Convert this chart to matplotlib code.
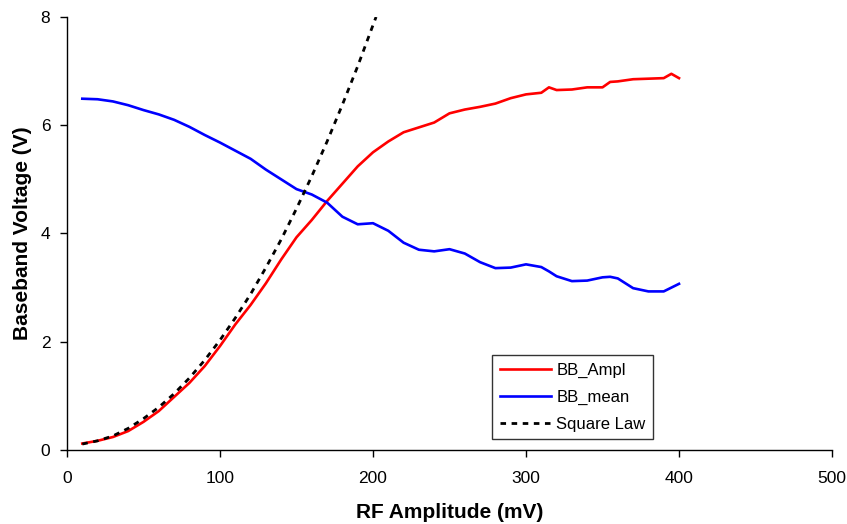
import matplotlib.pyplot as plt

plt.rcParams['font.family'] = ['Liberation Sans', 'DejaVu Sans']

# RF amplitude (mV)
rf_mv = [10, 20, 30, 40, 50, 60, 70, 80, 90, 100,
         110, 120, 130, 140, 150, 160, 170, 180, 190, 200,
         210, 220, 230, 240, 250, 260, 270, 280, 290, 300,
         310, 315, 320, 330, 340, 350, 355, 360, 370, 380,
         390, 395, 400]

bb_ampl = [0.12, 0.17, 0.24, 0.35, 0.52, 0.72, 0.98, 1.24, 1.55, 1.92,
           2.32, 2.68, 3.08, 3.52, 3.93, 4.25, 4.60, 4.92, 5.24, 5.50,
           5.70, 5.87, 5.96, 6.05, 6.22, 6.29, 6.34, 6.40, 6.50, 6.57,
           6.60, 6.70, 6.65, 6.66, 6.70, 6.70, 6.80, 6.81, 6.85, 6.86,
           6.87, 6.95, 6.87]

bb_mean = [6.49, 6.48, 6.44, 6.37, 6.28, 6.20, 6.10, 5.97, 5.82, 5.68,
           5.53, 5.38, 5.18, 5.00, 4.82, 4.72, 4.57, 4.31, 4.17, 4.19,
           4.05, 3.83, 3.70, 3.67, 3.71, 3.63, 3.47, 3.36, 3.37, 3.43,
           3.38, 3.30, 3.21, 3.12, 3.13, 3.19, 3.20, 3.17, 2.99, 2.93,
           2.93, 3.00, 3.07]

# square law reference
sq_mv = [10, 20, 30, 40, 50, 60, 70, 80, 90, 100,
         110, 120, 130, 140, 150, 160, 170, 180, 190, 200, 202]
sq_law = [0.11, 0.17, 0.26, 0.40, 0.58, 0.79, 1.04, 1.33, 1.66, 2.03,
          2.44, 2.88, 3.37, 3.89, 4.46, 5.06, 5.70, 6.38, 7.09, 7.85, 8.0]

fig = plt.figure(figsize=(8.47, 5.24), dpi=100)
ax = fig.add_axes([0.0791, 0.1412, 0.9032, 0.8264])

ax.plot(rf_mv, bb_ampl, color='#ff0000', lw=1.9, label='BB_Ampl')
ax.plot(rf_mv, bb_mean, color='#0000ff', lw=1.9, label='BB_mean')
ax.plot(sq_mv, sq_law, color='black', lw=2, ls=(0, (2, 2)), label='Square Law')

ax.set_xlim(0, 500)
ax.set_ylim(0, 8)
ax.set_xticks([0, 100, 200, 300, 400, 500])
ax.set_yticks([0, 2, 4, 6, 8])
ax.spines['top'].set_visible(False)
ax.spines['right'].set_visible(False)
for s in ['left', 'bottom']:
    ax.spines[s].set_linewidth(1)
ax.tick_params(direction='out', length=5, width=1, labelsize=12.5)
ax.tick_params(axis='x', pad=10)
ax.tick_params(axis='y', pad=7)

ax.set_xlabel('RF Amplitude (mV)', fontsize=15, fontweight='bold', labelpad=12)
ax.set_ylabel('Baseband Voltage (V)', fontsize=15, fontweight='bold', labelpad=6)

leg = ax.legend(loc='upper left', bbox_to_anchor=(0.5556, 0.2194), fontsize=12,
                frameon=True, fancybox=False, handlelength=3.1, handletextpad=0.3,
                borderpad=0.45, labelspacing=0.72, borderaxespad=0)
leg.get_frame().set_edgecolor('black')
leg.get_frame().set_linewidth(1)

fig.savefig('out.png', dpi=100)
